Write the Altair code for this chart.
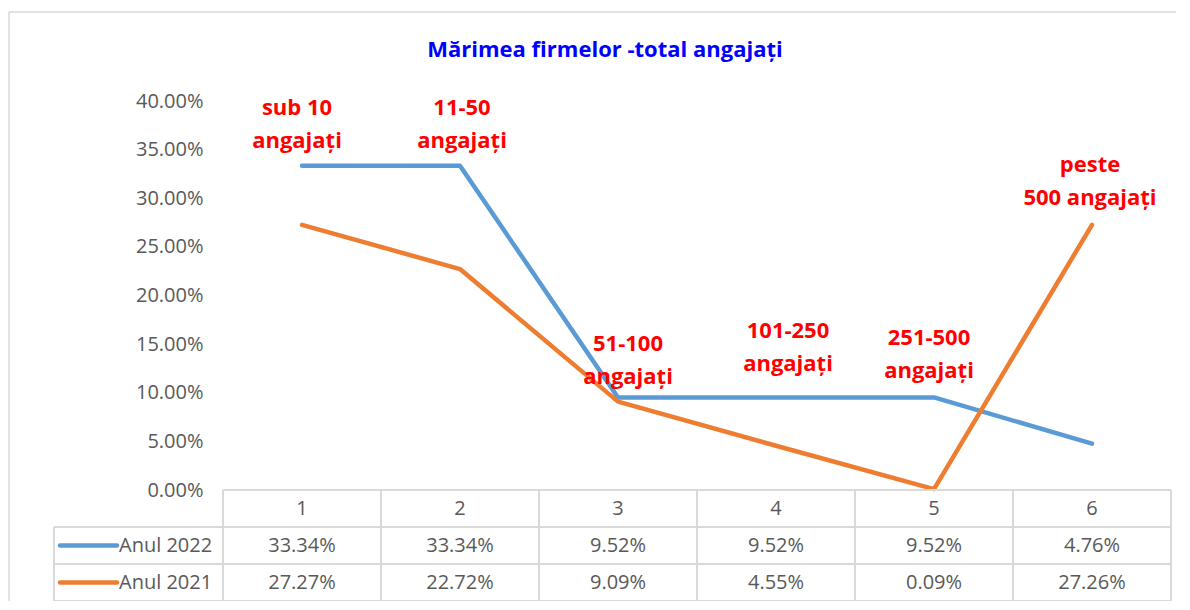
import altair as alt
import pandas as pd

# ---------------- data ----------------
categories = [1, 2, 3, 4, 5, 6]
series_names = ["Anul 2022", "Anul 2021"]
values_2022 = [33.34, 33.34, 9.52, 9.52, 9.52, 4.76]
values_2021 = [27.27, 22.72, 9.09, 4.55, 0.09, 27.26]
group_labels = ["sub 10\nangajați", "11-50\nangajați", "51-100\nangajați",
                "101-250\nangajați", "251-500\nangajați", "peste\n500 angajați"]
y_ticks = [0, 5, 10, 15, 20, 25, 30, 35, 40]
title_text = "Mărimea firmelor -total angajați"

# ---------------- styles / layout ----------------
colors = ["#5B9BD5", "#ED7D31"]
FONT = "Open Sans"
GRAY = "#595959"
GRID = "#D9D9D9"
W, H = 948, 500          # plot + table area
PLOT_H = 389             # height of line plot part
COL_W = W / len(categories)
label_dx = [-5, 2, 10, 12, -5, -2]
label_dy = [-58, -58, -53, -66, -59, -60]


def px_x(px_from_plot_left):
    return 0.5 + px_from_plot_left / COL_W


LEFT_EDGE = px_x(-169)
SW_X1, SW_X2 = px_x(-163), px_x(-106)
LEG_TXT_X = px_x(-104)

long = pd.DataFrame({
    "cat": categories * 2,
    "series": [series_names[0]] * len(categories) + [series_names[1]] * len(categories),
    "value": values_2022 + values_2021,
})
long["label"] = long["value"].map(lambda v: f"{v:.2f}%")
long["row"] = long["series"].map({series_names[0]: 1.5, series_names[1]: 2.5})

x_scale = alt.Scale(domain=[0.5, len(categories) + 0.5], nice=False, zero=False)
y_line = alt.Scale(domain=[0, 40], range=[PLOT_H, 0], nice=False, zero=False)
y_tab = alt.Scale(domain=[0, 3], range=[PLOT_H, H], nice=False, zero=False)
color_scale = alt.Scale(domain=series_names, range=colors)

X = alt.X("cat:Q", scale=x_scale, axis=None)

# ---------------- line part ----------------
y_axis = alt.Axis(values=y_ticks, labelExpr="format(datum.value/100, '.2%')",
                  domain=False, ticks=False, grid=False, labelFont=FONT,
                  labelFontSize=20, labelColor=GRAY, labelPadding=20, title=None)

line_layers = []
for i, s in enumerate(series_names):
    line_layers.append(
        alt.Chart(long[long["series"] == s]).mark_line(
            strokeWidth=4.5, strokeCap="round", strokeJoin="round"
        ).encode(
            x=X,
            y=alt.Y("value:Q", scale=y_line, axis=y_axis),
            color=alt.Color("series:N", scale=color_scale, legend=None),
        )
    )

top_vals = [max(a, b) for a, b in zip(values_2022, values_2021)]
for i, (c, lab) in enumerate(zip(categories, group_labels)):
    df = pd.DataFrame({"cat": [c], "value": [top_vals[i]], "text": [lab]})
    line_layers.append(
        alt.Chart(df).mark_text(
            font=FONT, fontSize=22, fontWeight="bold", color="#FF0000",
            lineBreak="\n", lineHeight=33, align="center", baseline="middle",
            dx=label_dx[i], dy=label_dy[i]
        ).encode(x=X, y=alt.Y("value:Q", scale=y_line, axis=y_axis), text="text:N")
    )

lines = alt.layer(*line_layers)

# ---------------- table part ----------------
hdr = pd.DataFrame({"cat": categories, "row": [0.5] * len(categories),
                    "text": [str(c) for c in categories]})
h_rules = pd.DataFrame({"y": [0, 1, 2, 3],
                        "x1": [0.5, LEFT_EDGE, LEFT_EDGE, LEFT_EDGE],
                        "x2": [6.5] * 4})
v_pos = [c - 0.5 for c in categories] + [len(categories) + 0.5]
v_rules = pd.DataFrame({"x": v_pos + [LEFT_EDGE],
                        "y1": [0] * len(v_pos) + [1],
                        "y2": [3] * (len(v_pos) + 1)})
legend_df = pd.DataFrame({"series": series_names, "row": [1.5, 2.5],
                          "x1": [SW_X1] * 2, "x2": [SW_X2] * 2, "tx": [LEG_TXT_X] * 2})

txt_style = dict(font=FONT, fontSize=20, color=GRAY, baseline="middle")
one = pd.DataFrame({"k": [0]})

table_layers = [
    alt.Chart(h_rules).mark_rule(color=GRID, strokeWidth=2).encode(
        x=alt.X("x1:Q", scale=x_scale, axis=None), x2="x2:Q",
        y=alt.Y("y:Q", scale=y_tab, axis=None)),
    alt.Chart(v_rules).mark_rule(color=GRID, strokeWidth=2).encode(
        x=alt.X("x:Q", scale=x_scale, axis=None),
        y=alt.Y("y1:Q", scale=y_tab, axis=None), y2="y2:Q"),
    alt.Chart(hdr).mark_text(align="center", **txt_style).encode(
        x=X, y=alt.Y("row:Q", scale=y_tab, axis=None), text="text:N"),
    alt.Chart(long).mark_text(align="center", **txt_style).encode(
        x=X, y=alt.Y("row:Q", scale=y_tab, axis=None), text="label:N"),
    alt.Chart(legend_df).mark_rule(strokeWidth=4.5, strokeCap="round").encode(
        x=alt.X("x1:Q", scale=x_scale, axis=None), x2="x2:Q",
        y=alt.Y("row:Q", scale=y_tab, axis=None),
        color=alt.Color("series:N", scale=color_scale, legend=None)),
    alt.Chart(legend_df).mark_text(align="left", **txt_style).encode(
        x=alt.X("tx:Q", scale=x_scale, axis=None),
        y=alt.Y("row:Q", scale=y_tab, axis=None), text="series:N"),
    # chart frame (top and left edges) and title (decoration)
    alt.Chart(one).mark_rule(color=GRID, strokeWidth=1.5).encode(
        x=alt.value(-214), x2=alt.value(990), y=alt.value(-89)),
    alt.Chart(one).mark_rule(color=GRID, strokeWidth=1.5).encode(
        x=alt.value(-214), y=alt.value(-89), y2=alt.value(530)),
    alt.Chart(pd.DataFrame({"t": [title_text]})).mark_text(
        font=FONT, fontSize=22, fontWeight="bold", color="#0000FF",
        align="center", baseline="middle").encode(
        x=alt.value(605 - 223), y=alt.value(50 - 101), text="t:N"),
]
table = alt.layer(*table_layers)

chart = alt.layer(lines, table).resolve_scale(y="independent").properties(
    width=W, height=H,
    autosize=alt.AutoSizeParams(type="none"),
    padding={"left": 215, "top": 93, "right": 5, "bottom": 0},
).configure_view(strokeWidth=0)

chart.save("out.html", embed_options={"renderer": "svg", "actions": False})
